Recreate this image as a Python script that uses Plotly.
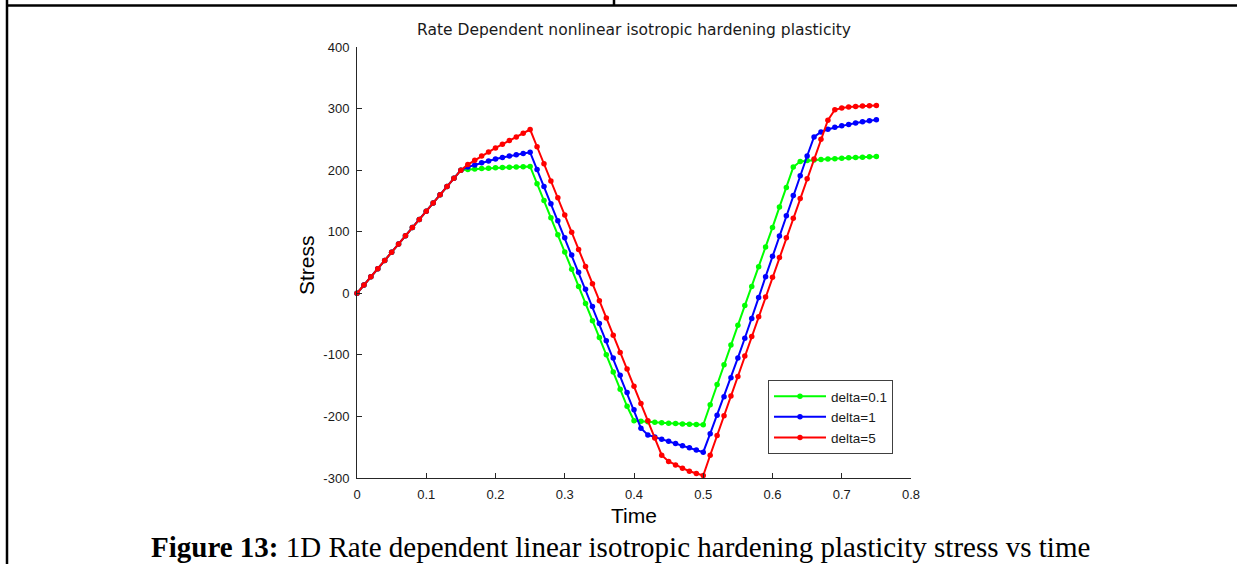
import plotly.graph_objects as go

# ---------------- data ----------------
time = [0.00, 0.01, 0.02, 0.03, 0.04, 0.05, 0.06, 0.07, 0.08, 0.09,
        0.10, 0.11, 0.12, 0.13, 0.14, 0.15, 0.16, 0.17, 0.18, 0.19,
        0.20, 0.21, 0.22, 0.23, 0.24, 0.25, 0.26, 0.27, 0.28, 0.29,
        0.30, 0.31, 0.32, 0.33, 0.34, 0.35, 0.36, 0.37, 0.38, 0.39,
        0.40, 0.41, 0.42, 0.43, 0.44, 0.45, 0.46, 0.47, 0.48, 0.49,
        0.50, 0.51, 0.52, 0.53, 0.54, 0.55, 0.56, 0.57, 0.58, 0.59,
        0.60, 0.61, 0.62, 0.63, 0.64, 0.65, 0.66, 0.67, 0.68, 0.69,
        0.70, 0.71, 0.72, 0.73, 0.74, 0.75]

stress_delta_01 = [0, 13.3, 26.7, 40, 53.3, 66.7, 80, 93.3, 106.7, 120,
                   133.3, 146.7, 160, 173.3, 186.7, 200, 201, 201.8, 202.5, 203.2,
                   203.8, 204.3, 204.8, 205.3, 205.7, 206, 178, 150.5, 122.5, 95,
                   67, 39, 11, -16.5, -44.5, -72, -100, -128, -156, -183.5,
                   -207, -208, -208.8, -209.5, -210.2, -210.9, -211.5, -212.1, -212.6, -213.1,
                   -213.5, -181, -148, -116, -84, -52, -20, 11, 43, 75,
                   107, 140, 172, 205, 214, 215.5, 216.5, 217.3, 218, 218.7,
                   219.4, 220, 220.6, 221.1, 221.6, 222]

stress_delta_1 = [0, 13.3, 26.7, 40, 53.3, 66.7, 80, 93.3, 106.7, 120,
                  133.3, 146.7, 160, 173.3, 186.7, 200, 205, 208.5, 212, 215,
                  218, 220.5, 223, 225, 227, 229, 201, 173.5, 145.5, 118,
                  90, 62, 34, 6.5, -21.5, -49, -77, -105, -133, -161,
                  -189, -219, -230, -233.5, -237, -240.5, -244, -247.5, -251, -254.5,
                  -258, -228, -198, -168, -137, -105, -73, -41, -7, 27,
                  60, 93, 126, 159, 191, 223, 254, 262, 266.5, 269.5,
                  272, 274.3, 276.5, 278.5, 280.3, 282]

stress_delta_5 = [0, 13.3, 26.7, 40, 53.3, 66.7, 80, 93.3, 106.7, 120,
                  133.3, 146.7, 160, 173.3, 186.7, 200, 209, 216, 223, 229.5,
                  236, 242, 248, 254, 260, 266, 238, 210.5, 182.5, 155,
                  127, 99, 71, 43.5, 15.5, -12, -40, -68, -96, -123,
                  -151, -179, -207, -235, -263, -273, -279, -284, -289, -292.5,
                  -296, -263, -231, -199, -167, -135, -102, -70, -38, -6,
                  26, 58, 90, 122, 154, 186, 218, 250, 281, 298,
                  301, 302.5, 303.5, 304, 304.5, 305]

series_names = ["delta=0.1", "delta=1", "delta=5"]
series_values = [stress_delta_01, stress_delta_1, stress_delta_5]
series_colors = ["#00ff00", "#0000ff", "#ff0000"]

x_tick_values = [0, 0.1, 0.2, 0.3, 0.4, 0.5, 0.6, 0.7, 0.8]
x_tick_labels = ["0", "0.1", "0.2", "0.3", "0.4", "0.5", "0.6", "0.7", "0.8"]
y_tick_values = [-300, -200, -100, 0, 100, 200, 300, 400]
y_tick_labels = ["-300", "-200", "-100", "0", "100", "200", "300", "400"]

title_text = "Rate Dependent nonlinear isotropic hardening plasticity"
x_label = "Time"
y_label = "Stress"
caption_bold = "Figure 13:"
caption_text = "1D Rate dependent linear isotropic hardening plasticity stress vs time"

# ---------------- layout geometry ----------------
W, H = 1237, 564
L, R, T, B = 357, 911, 47, 478          # plot area in pixels
PW, PH = R - L, B - T


def px(x):
    return (x - L) / PW


def py(y):
    return (B - y) / PH


AXIS_COLOR = "#262626"
TICK_FONT = dict(family="Arial, Liberation Sans", size=13, color="#1a1a1a")

fig = go.Figure()
for name, vals, col in zip(series_names, series_values, series_colors):
    fig.add_trace(go.Scatter(
        x=time, y=vals, name=name, mode="lines+markers",
        line=dict(color=col, width=2),
        marker=dict(color=col, size=5.5, symbol="circle"),
        cliponaxis=False,
    ))

fig.update_layout(
    width=W, height=H, autosize=False,
    margin=dict(l=L, r=W - R, t=T, b=H - B, pad=0),
    paper_bgcolor="white", plot_bgcolor="white",
    showlegend=True,
    legend=dict(
        x=px(768), y=py(380), xanchor="left", yanchor="top",
        bgcolor="white", bordercolor="#404040", borderwidth=1,
        font=dict(family="Arial, Liberation Sans", size=13.5, color="#1a1a1a"),
        itemwidth=52, tracegroupgap=0,
    ),
    xaxis=dict(
        range=[0, 0.8], tickmode="array", tickvals=x_tick_values, ticktext=x_tick_labels,
        ticks="inside", ticklen=5, tickcolor=AXIS_COLOR, tickwidth=1,
        showline=True, linecolor=AXIS_COLOR, linewidth=1, mirror=False,
        showgrid=False, zeroline=False, tickfont=TICK_FONT, ticklabelstandoff=4,
    ),
    yaxis=dict(
        range=[-300, 400], tickmode="array", tickvals=y_tick_values, ticktext=y_tick_labels,
        ticks="inside", ticklen=5, tickcolor=AXIS_COLOR, tickwidth=1,
        showline=True, linecolor=AXIS_COLOR, linewidth=1, mirror=False,
        showgrid=False, zeroline=False, tickfont=TICK_FONT, ticklabelstandoff=4,
    ),
)

annotations = [
    dict(text=title_text, x=px(634), y=py(30), xref="paper", yref="paper",
         xanchor="center", yanchor="middle", showarrow=False,
         font=dict(family="DejaVu Sans", size=15.5, color="#1a1a1a")),
    dict(text=x_label, x=px(634), y=py(515), xref="paper", yref="paper",
         xanchor="center", yanchor="middle", showarrow=False,
         font=dict(family="Arial, Liberation Sans", size=21, color="black")),
    dict(text=y_label, x=px(306), y=py(265), xref="paper", yref="paper",
         xanchor="center", yanchor="middle", showarrow=False, textangle=-90,
         font=dict(family="Arial, Liberation Sans", size=21, color="black")),
    dict(text="<b>" + caption_bold + "</b> " + caption_text,
         x=px(620), y=py(547), xref="paper", yref="paper",
         xanchor="center", yanchor="middle", showarrow=False,
         font=dict(family="Liberation Serif, Times New Roman", size=29, color="black")),
]
fig.update_layout(annotations=annotations)

# document frame lines
frame = dict(type="line", xref="paper", yref="paper", line=dict(color="black", width=2.5))
fig.add_shape(**frame, x0=px(7), x1=px(1240), y0=py(5.5), y1=py(5.5))
fig.add_shape(**frame, x0=px(7), x1=px(7), y0=py(-2), y1=py(570))
fig.add_shape(**frame, x0=px(614), x1=px(614), y0=py(-2), y1=py(5.5))

fig.write_html("out.html")
